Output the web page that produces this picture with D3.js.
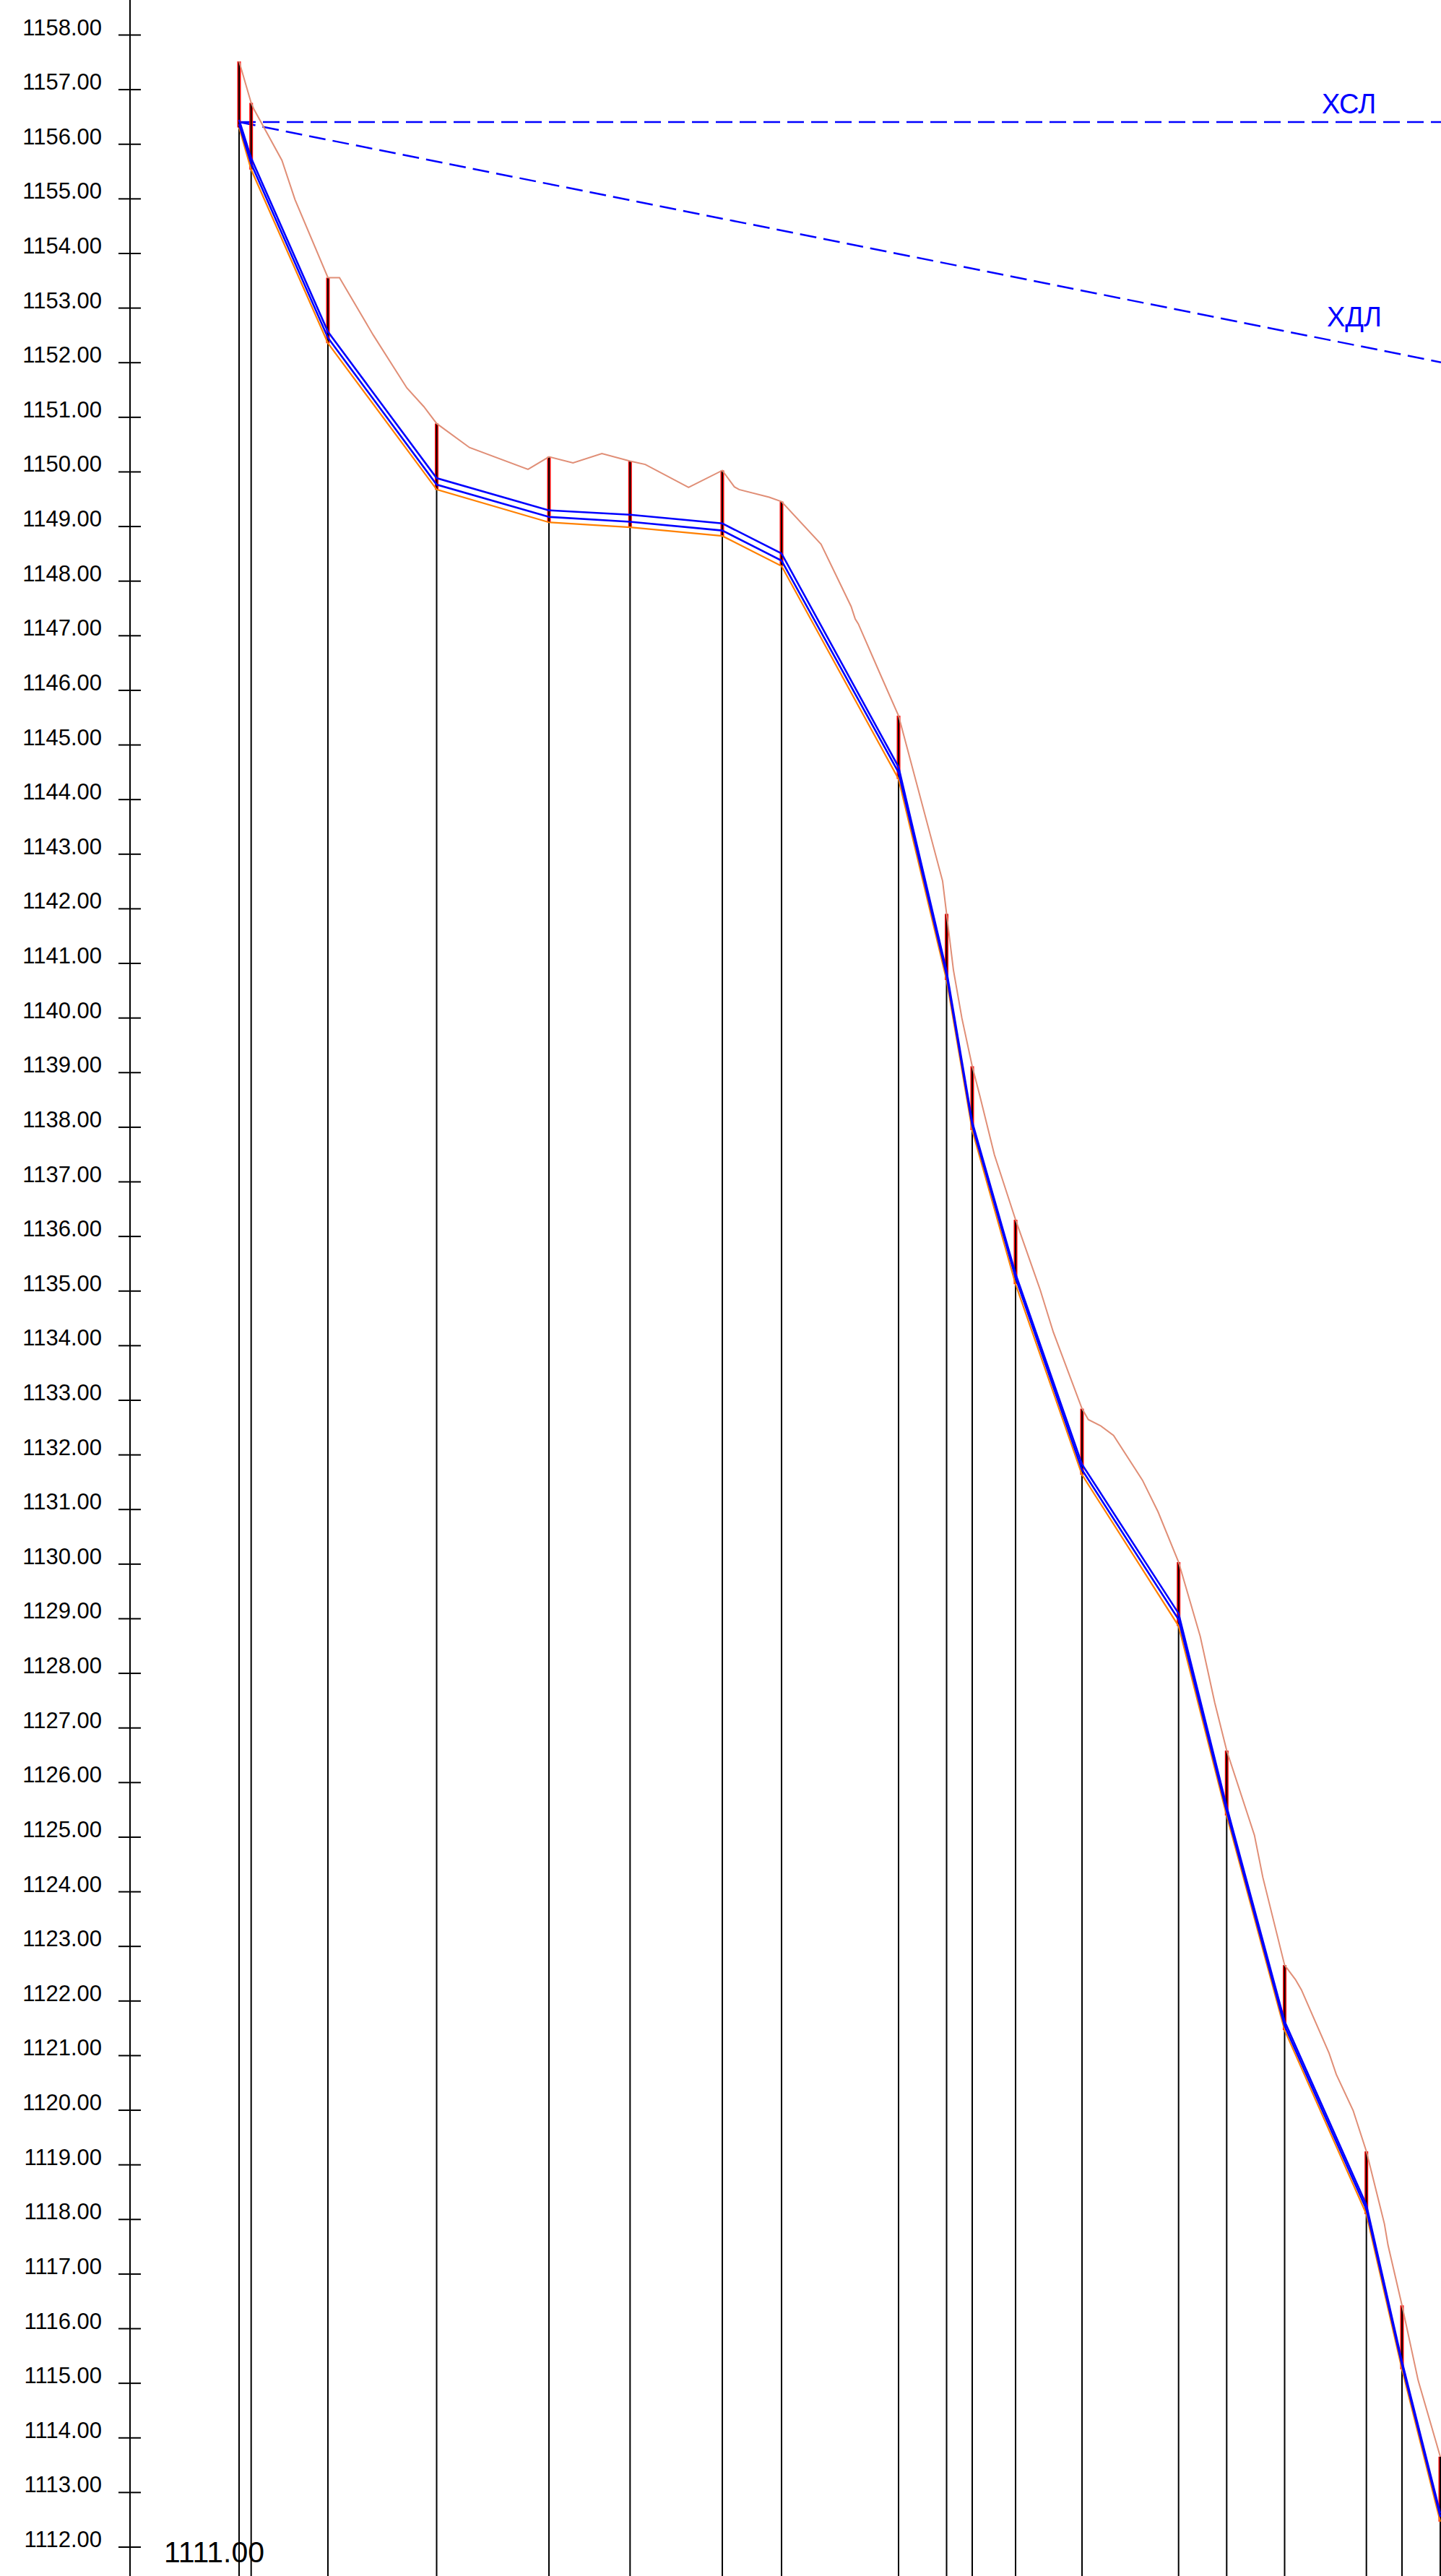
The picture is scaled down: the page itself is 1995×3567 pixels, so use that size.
<!DOCTYPE html>
<html>
<head>
<meta charset="utf-8">
<script src="https://cdn.jsdelivr.net/npm/d3@7"></script>
<style>
  html, body { margin: 0; padding: 0; background: #fff; }
  svg { display: block; }
  text { font-family: "Liberation Sans", Arial, sans-serif; }
</style>
</head>
<body>
<div id="chart"></div>
<script>
// ---------------- DATA ----------------
// Y axis tick labels (elevations, m)
const tickValues = d3.range(1112, 1159, 1);
const datumLabel = "1111.00";

// Stations (distance along route, m)
const stationDist = [0, 1.67, 12.3, 27.35, 42.9, 54.13, 66.9, 75.1, 91.3, 97.95, 101.5, 107.5, 116.7, 130.07, 136.73, 144.75, 156.07, 161.0, 166.3];
// Ground elevation at each station
const groundAtStation = [1157.51, 1156.75, 1153.55, 1150.88, 1150.27, 1150.19, 1150.02, 1149.45, 1145.53, 1141.90, 1139.11, 1136.30, 1132.84, 1130.03, 1126.58, 1122.65, 1119.24, 1116.42, 1113.65];
// Pipe top (upper blue line)
const pipeTop = [1156.44, 1155.74, 1152.56, 1149.88, 1149.29, 1149.21, 1149.05, 1148.50, 1144.59, 1140.85, 1138.09, 1135.31, 1131.82, 1129.09, 1125.55, 1121.62, 1118.26, 1115.39, 1112.61];
// Pipe invert (lower blue line)
const pipeInvert = [1156.36, 1155.64, 1152.45, 1149.76, 1149.17, 1149.08, 1148.92, 1148.37, 1144.49, 1140.78, 1138.03, 1135.24, 1131.72, 1128.98, 1125.47, 1121.54, 1118.18, 1115.33, 1112.55];
// Trench base (orange line)
const trenchBase = [1156.30, 1155.53, 1152.35, 1149.67, 1149.07, 1148.98, 1148.82, 1148.27, 1144.37, 1140.69, 1137.94, 1135.12, 1131.63, 1128.86, 1125.39, 1121.46, 1118.09, 1115.25, 1112.46];

// Natural ground profile
const groundDist = [0, 1.67, 2.07, 5.93, 7.74, 12.3, 13.9, 18.57, 23.23, 25.57, 27.35, 31.9, 40.0, 42.9, 46.23, 50.23, 54.13, 56.23, 62.23, 66.9, 68.57, 69.23, 73.4, 75.1, 80.57, 84.73, 85.3, 85.73, 88.73, 91.3, 97.4, 97.95, 98.9, 100.07, 101.5, 102.57, 104.57, 107.5, 110.9, 112.73, 116.7, 117.57, 119.23, 121.07, 125.07, 127.23, 130.07, 133.07, 135.07, 136.73, 140.57, 141.73, 144.75, 146.23, 147.07, 150.9, 151.9, 154.23, 156.07, 158.57, 159.07, 161.0, 163.23, 166.3];
const groundElev = [1157.51, 1156.75, 1156.63, 1155.70, 1154.98, 1153.55, 1153.55, 1152.50, 1151.53, 1151.19, 1150.88, 1150.44, 1150.04, 1150.27, 1150.16, 1150.33, 1150.19, 1150.13, 1149.71, 1150.02, 1149.72, 1149.67, 1149.53, 1149.45, 1148.67, 1147.53, 1147.30, 1147.21, 1146.30, 1145.53, 1142.50, 1141.90, 1140.87, 1139.99, 1139.11, 1138.56, 1137.49, 1136.30, 1135.02, 1134.24, 1132.84, 1132.64, 1132.53, 1132.35, 1131.53, 1130.95, 1130.03, 1128.67, 1127.46, 1126.58, 1125.03, 1124.26, 1122.65, 1122.39, 1122.20, 1121.04, 1120.65, 1119.99, 1119.24, 1117.91, 1117.52, 1116.42, 1115.05, 1113.65];

// Design level lines
const hslDist = [0, 166.4];
const hslElev = [1156.40, 1156.40];
const hdlDist = [0, 166.4];
const hdlElev = [1156.40, 1152.00];
const hslLabel = "ХСЛ";
const hdlLabel = "ХДЛ";

// ---------------- LAYOUT ----------------
const W = 1995, H = 3567;
const axisX = 180;

const x = d3.scaleLinear().domain([0, 166.4]).range([331, 1995]);
const y = d3.scaleLinear().domain([1158, 1112]).range([48, 3526.5]);

const svg = d3.select("#chart").append("svg")
  .attr("width", W).attr("height", H)
  .attr("viewBox", `0 0 ${W} ${H}`);

// ---- Axis ----
const axis = d3.axisLeft(y)
  .tickValues(tickValues)
  .tickFormat(d3.format(".2f"))
  .tickSizeOuter(0)
  .tickSize(16)
  .tickPadding(24);

const gAxis = svg.append("g")
  .attr("transform", `translate(${axisX},0)`)
  .call(axis);
gAxis.select(".domain").remove();
gAxis.selectAll(".tick line")
  .attr("x1", -16).attr("x2", 15)
  .attr("stroke", "#000").attr("stroke-width", 2);
gAxis.selectAll(".tick text")
  .attr("x", -39)
  .attr("dy", "0")
  .attr("fill", "#000")
  .style("font-size", "31px")
  .style("font-family", "'Liberation Sans', Arial, sans-serif");

svg.append("line")
  .attr("x1", axisX).attr("x2", axisX)
  .attr("y1", 0).attr("y2", H)
  .attr("stroke", "#000").attr("stroke-width", 2);

// datum label
svg.append("text")
  .attr("x", 227).attr("y", 3548)
  .attr("fill", "#000")
  .style("font-size", "41px")
  .text(datumLabel);

// ---- Design lines (dashed) ----
const hsl = hslDist.map((d, i) => [d, hslElev[i]]);
const hdl = hdlDist.map((d, i) => [d, hdlElev[i]]);
const lineGen = d3.line().x(d => x(d[0])).y(d => y(d[1]));

svg.append("path").datum(hsl)
  .attr("d", lineGen)
  .attr("fill", "none").attr("stroke", "#0000FF")
  .attr("stroke-width", 2.5).attr("stroke-dasharray", "23,10");
svg.append("path").datum(hdl)
  .attr("d", lineGen)
  .attr("fill", "none").attr("stroke", "#0000FF")
  .attr("stroke-width", 2.5).attr("stroke-dasharray", "23,10");

svg.append("text")
  .attr("x", 1830).attr("y", 157)
  .attr("fill", "#0000FF")
  .style("font-size", "38px")
  .text(hslLabel);
svg.append("text")
  .attr("x", 1837).attr("y", 452)
  .attr("fill", "#0000FF")
  .style("font-size", "38px")
  .text(hdlLabel);

// ---- Station markers (red: ground to trench base) ----
const stations = stationDist.map((d, i) => ({
  d, g: groundAtStation[i], top: pipeTop[i], inv: pipeInvert[i], base: trenchBase[i]
}));

svg.append("g").selectAll("line").data(stations).join("line")
  .attr("x1", s => x(s.d)).attr("x2", s => x(s.d))
  .attr("y1", s => y(s.g)).attr("y2", s => y(s.base))
  .attr("stroke", "#FF0000").attr("stroke-width", 5);

// ---- Station verticals (black: ground to bottom) ----
svg.append("g").selectAll("line").data(stations).join("line")
  .attr("x1", s => x(s.d)).attr("x2", s => x(s.d))
  .attr("y1", s => y(s.g)).attr("y2", H)
  .attr("stroke", "#000").attr("stroke-width", 2);

// ---- Ground profile ----
const ground = groundDist.map((d, i) => [d, groundElev[i]]);
svg.append("path").datum(ground)
  .attr("d", lineGen)
  .attr("fill", "none").attr("stroke", "#E08E76")
  .attr("stroke-width", 2);

// ---- Trench base (orange) ----
svg.append("path").datum(stations.map(s => [s.d, s.base]))
  .attr("d", lineGen)
  .attr("fill", "none").attr("stroke", "#FF8000")
  .attr("stroke-width", 2.2);

// ---- Pipe (blue double line) ----
svg.append("path").datum(stations.map(s => [s.d, s.inv]))
  .attr("d", lineGen)
  .attr("fill", "none").attr("stroke", "#0000FF")
  .attr("stroke-width", 2.6);
svg.append("path").datum(stations.map(s => [s.d, s.top]))
  .attr("d", lineGen)
  .attr("fill", "none").attr("stroke", "#0000FF")
  .attr("stroke-width", 2.6);
</script>
</body>
</html>
